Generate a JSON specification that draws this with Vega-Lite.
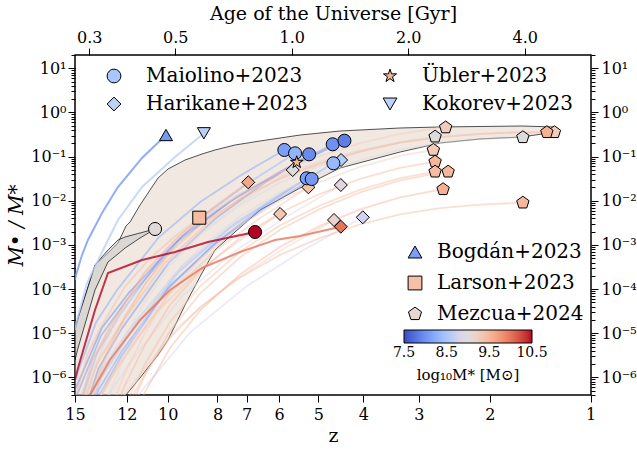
{
"$schema":"https://vega.github.io/schema/vega-lite/v6.json",
"width":516,"height":340,
"autosize":{"type":"none"},
"padding":{"left":75,"top":55,"right":46,"bottom":57},
"config":{
 "font":"DejaVu Serif",
 "view":{"stroke":"black","strokeWidth":1.5},
 "axis":{"grid":false,"domain":false,"tickColor":"black","labelColor":"black","titleColor":"black","labelFont":"DejaVu Serif","titleFont":"DejaVu Serif","labelFontSize":16,"titleFontSize":19,"titleFontWeight":"normal","labelFlush":false,"labelOverlap":false,"tickWidth":1},
 "legend":{"labelFont":"DejaVu Serif","titleFont":"DejaVu Serif","labelColor":"black","titleColor":"black","labelLimit":400}
},
"datasets":{
"band":[
{"age":0.2755,"upper":-4.881,"lower":-7.983},{"age":0.3103,"upper":-3.454,"lower":-7.417},{"age":0.3352,"upper":-3.183,"lower":-7.032},{"age":0.3557,"upper":-2.956,"lower":-6.693},{"age":0.3732,"upper":-2.571,"lower":-6.398},{"age":0.3822,"upper":-2.481,"lower":-6.285},{"age":0.4056,"upper":-2.096,"lower":-6.013},{"age":0.4305,"upper":-1.756,"lower":-5.719},{"age":0.4515,"upper":-1.484,"lower":-5.492},{"age":0.4791,"upper":-1.281,"lower":-5.153},{"age":0.5301,"upper":-1.077,"lower":-4.36},{"age":0.5865,"upper":-0.941,"lower":-3.636},{"age":0.6335,"upper":-0.85,"lower":-3.115},{"age":0.7136,"upper":-0.737,"lower":-2.707},{"age":0.8282,"upper":-0.646,"lower":-2.209},{"age":1.051,"upper":-0.511,"lower":-1.711},{"age":1.333,"upper":-0.42,"lower":-1.258},{"age":1.9055,"upper":-0.352,"lower":-0.896},{"age":2.4164,"upper":-0.329,"lower":-0.692},{"age":3.066,"upper":-0.318,"lower":-0.601},{"age":3.937,"upper":-0.307,"lower":-0.556},{"age":4.79,"upper":-0.329,"lower":-0.443}
],
"gband":[
{"age":0.2755,"upper":-4.926,"lower":-5.606},{"age":0.2805,"upper":-4.655,"lower":-5.334},{"age":0.3103,"upper":-3.454,"lower":-4.021},{"age":0.3352,"upper":-3.115,"lower":-3.387},{"age":0.3557,"upper":-2.888,"lower":-3.206},{"age":0.371,"upper":-2.82,"lower":-3.07},{"age":0.4056,"upper":-2.73,"lower":-2.843},{"age":0.4435,"upper":-2.639,"lower":-2.639}
],
"tracks":[
{"id":"M1","logMstar":8.1,"age":0.957,"log_ratio":-0.85},{"id":"M1","logMstar":8.1,"age":0.746,"log_ratio":-1.397},{"id":"M1","logMstar":8.1,"age":0.5815,"log_ratio":-2.022},{"id":"M1","logMstar":8.1,"age":0.4533,"log_ratio":-2.829},{"id":"M1","logMstar":8.1,"age":0.3534,"log_ratio":-4.027},{"id":"M1","logMstar":8.1,"age":0.3121,"log_ratio":-4.756},{"id":"M1","logMstar":8.1,"age":0.2755,"log_ratio":-6.058},
{"id":"M2","logMstar":8.3,"age":1.02,"log_ratio":-0.925},{"id":"M2","logMstar":8.3,"age":0.785,"log_ratio":-1.559},{"id":"M2","logMstar":8.3,"age":0.6044,"log_ratio":-2.284},{"id":"M2","logMstar":8.3,"age":0.4651,"log_ratio":-3.22},{"id":"M2","logMstar":8.3,"age":0.3579,"log_ratio":-4.609},{"id":"M2","logMstar":8.3,"age":0.3141,"log_ratio":-5.454},{"id":"M2","logMstar":8.3,"age":0.2755,"log_ratio":-6.964},
{"id":"M3","logMstar":7.95,"age":1.109,"log_ratio":-0.948},{"id":"M3","logMstar":7.95,"age":0.8392,"log_ratio":-1.627},{"id":"M3","logMstar":7.95,"age":0.6353,"log_ratio":-2.404},{"id":"M3","logMstar":7.95,"age":0.4808,"log_ratio":-3.407},{"id":"M3","logMstar":7.95,"age":0.364,"log_ratio":-4.895},{"id":"M3","logMstar":7.95,"age":0.3167,"log_ratio":-5.801},{"id":"M3","logMstar":7.95,"age":0.2755,"log_ratio":-7.418},
{"id":"M4","logMstar":8.0,"age":1.276,"log_ratio":-0.721},{"id":"M4","logMstar":8.0,"age":0.9393,"log_ratio":-1.329},{"id":"M4","logMstar":8.0,"age":0.6912,"log_ratio":-2.024},{"id":"M4","logMstar":8.0,"age":0.5087,"log_ratio":-2.921},{"id":"M4","logMstar":8.0,"age":0.3744,"log_ratio":-4.253},{"id":"M4","logMstar":8.0,"age":0.3211,"log_ratio":-5.064},{"id":"M4","logMstar":8.0,"age":0.2755,"log_ratio":-6.511},
{"id":"M5","logMstar":7.85,"age":1.368,"log_ratio":-0.64},{"id":"M5","logMstar":7.85,"age":0.9926,"log_ratio":-1.233},{"id":"M5","logMstar":7.85,"age":0.7205,"log_ratio":-1.91},{"id":"M5","logMstar":7.85,"age":0.523,"log_ratio":-2.785},{"id":"M5","logMstar":7.85,"age":0.3796,"log_ratio":-4.083},{"id":"M5","logMstar":7.85,"age":0.3234,"log_ratio":-4.874},{"id":"M5","logMstar":7.85,"age":0.2755,"log_ratio":-6.285},
{"id":"M6","logMstar":8.35,"age":1.281,"log_ratio":-1.151},{"id":"M6","logMstar":8.35,"age":0.9419,"log_ratio":-1.833},{"id":"M6","logMstar":8.35,"age":0.6926,"log_ratio":-2.612},{"id":"M6","logMstar":8.35,"age":0.5094,"log_ratio":-3.618},{"id":"M6","logMstar":8.35,"age":0.3747,"log_ratio":-5.111},{"id":"M6","logMstar":8.35,"age":0.3212,"log_ratio":-6.02},{"id":"M6","logMstar":8.35,"age":0.2755,"log_ratio":-7.643},
{"id":"M7","logMstar":8.1,"age":1.093,"log_ratio":-1.491},{"id":"M7","logMstar":8.1,"age":0.83,"log_ratio":-2.185},{"id":"M7","logMstar":8.1,"age":0.6301,"log_ratio":-2.977},{"id":"M7","logMstar":8.1,"age":0.4782,"log_ratio":-4.001},{"id":"M7","logMstar":8.1,"age":0.3629,"log_ratio":-5.52},{"id":"M7","logMstar":8.1,"age":0.3162,"log_ratio":-6.445},{"id":"M7","logMstar":8.1,"age":0.2755,"log_ratio":-8.096},
{"id":"M8","logMstar":8.05,"age":1.126,"log_ratio":-1.507},{"id":"M8","logMstar":8.05,"age":0.85,"log_ratio":-2.175},{"id":"M8","logMstar":8.05,"age":0.6414,"log_ratio":-2.939},{"id":"M8","logMstar":8.05,"age":0.4838,"log_ratio":-3.925},{"id":"M8","logMstar":8.05,"age":0.3651,"log_ratio":-5.388},{"id":"M8","logMstar":8.05,"age":0.3171,"log_ratio":-6.279},{"id":"M8","logMstar":8.05,"age":0.2755,"log_ratio":-7.87},
{"id":"Ha","logMstar":9.0,"age":1.006,"log_ratio":-1.303},{"id":"Ha","logMstar":9.0,"age":0.7764,"log_ratio":-1.921},{"id":"Ha","logMstar":9.0,"age":0.5993,"log_ratio":-2.628},{"id":"Ha","logMstar":9.0,"age":0.4626,"log_ratio":-3.54},{"id":"Ha","logMstar":9.0,"age":0.357,"log_ratio":-4.895},{"id":"Ha","logMstar":9.0,"age":0.3136,"log_ratio":-5.719},{"id":"Ha","logMstar":9.0,"age":0.2755,"log_ratio":-7.191},
{"id":"Hb","logMstar":8.6,"age":1.341,"log_ratio":-1.077},{"id":"Hb","logMstar":8.6,"age":0.9769,"log_ratio":-1.743},{"id":"Hb","logMstar":8.6,"age":0.7121,"log_ratio":-2.504},{"id":"Hb","logMstar":8.6,"age":0.5188,"log_ratio":-3.487},{"id":"Hb","logMstar":8.6,"age":0.3782,"log_ratio":-4.945},{"id":"Hb","logMstar":8.6,"age":0.3227,"log_ratio":-5.833},{"id":"Hb","logMstar":8.6,"age":0.2755,"log_ratio":-7.418},
{"id":"Hc","logMstar":9.4,"age":1.104,"log_ratio":-1.695},{"id":"Hc","logMstar":9.4,"age":0.8361,"log_ratio":-2.367},{"id":"Hc","logMstar":9.4,"age":0.6337,"log_ratio":-3.135},{"id":"Hc","logMstar":9.4,"age":0.4799,"log_ratio":-4.128},{"id":"Hc","logMstar":9.4,"age":0.3637,"log_ratio":-5.6},{"id":"Hc","logMstar":9.4,"age":0.3166,"log_ratio":-6.497},
{"id":"Hd","logMstar":8.9,"age":1.339,"log_ratio":-1.643},{"id":"Hd","logMstar":8.9,"age":0.9758,"log_ratio":-2.344},{"id":"Hd","logMstar":8.9,"age":0.7116,"log_ratio":-3.146},{"id":"Hd","logMstar":8.9,"age":0.5185,"log_ratio":-4.181},{"id":"Hd","logMstar":8.9,"age":0.378,"log_ratio":-5.718},{"id":"Hd","logMstar":8.9,"age":0.3227,"log_ratio":-6.653},
{"id":"He","logMstar":9.35,"age":0.933,"log_ratio":-2.299},{"id":"He","logMstar":9.35,"age":0.731,"log_ratio":-2.908},{"id":"He","logMstar":9.35,"age":0.5726,"log_ratio":-3.603},{"id":"He","logMstar":9.35,"age":0.4488,"log_ratio":-4.502},{"id":"He","logMstar":9.35,"age":0.3516,"log_ratio":-5.835},{"id":"He","logMstar":9.35,"age":0.3113,"log_ratio":-6.647},
{"id":"Hf","logMstar":9.15,"age":1.286,"log_ratio":-2.435},{"id":"Hf","logMstar":9.15,"age":0.9452,"log_ratio":-3.101},{"id":"Hf","logMstar":9.15,"age":0.6945,"log_ratio":-3.862},{"id":"Hf","logMstar":9.15,"age":0.5102,"log_ratio":-4.845},{"id":"Hf","logMstar":9.15,"age":0.375,"log_ratio":-6.303},{"id":"Hf","logMstar":9.15,"age":0.3212,"log_ratio":-7.191},
{"id":"Hh","logMstar":8.75,"age":1.526,"log_ratio":-2.374},{"id":"Hh","logMstar":8.75,"age":1.0835,"log_ratio":-3.094},{"id":"Hh","logMstar":8.75,"age":0.7692,"log_ratio":-3.916},{"id":"Hh","logMstar":8.75,"age":0.5463,"log_ratio":-4.979},{"id":"Hh","logMstar":8.75,"age":0.3882,"log_ratio":-6.556},{"id":"Hh","logMstar":8.75,"age":0.3269,"log_ratio":-7.515},
{"id":"Hi","logMstar":9.65,"age":0.772,"log_ratio":-1.582},{"id":"Hi","logMstar":9.65,"age":0.6287,"log_ratio":-2.147},{"id":"Hi","logMstar":9.65,"age":0.5114,"log_ratio":-2.793},{"id":"Hi","logMstar":9.65,"age":0.4162,"log_ratio":-3.628},{"id":"Hi","logMstar":9.65,"age":0.3386,"log_ratio":-4.866},{"id":"Hi","logMstar":9.65,"age":0.3055,"log_ratio":-5.619},{"id":"Hi","logMstar":9.65,"age":0.2755,"log_ratio":-6.965},
{"id":"U","logMstar":9.5,"age":1.03,"log_ratio":-1.129},{"id":"U","logMstar":9.5,"age":0.7914,"log_ratio":-1.766},{"id":"U","logMstar":9.5,"age":0.608,"log_ratio":-2.493},{"id":"U","logMstar":9.5,"age":0.467,"log_ratio":-3.433},{"id":"U","logMstar":9.5,"age":0.3587,"log_ratio":-4.827},{"id":"U","logMstar":9.5,"age":0.3144,"log_ratio":-5.676},{"id":"U","logMstar":9.5,"age":0.2755,"log_ratio":-7.191},
{"id":"L","logMstar":9.45,"age":0.577,"log_ratio":-2.383},{"id":"L","logMstar":9.45,"age":0.4978,"log_ratio":-2.816},{"id":"L","logMstar":9.45,"age":0.4294,"log_ratio":-3.312},{"id":"L","logMstar":9.45,"age":0.3703,"log_ratio":-3.952},{"id":"L","logMstar":9.45,"age":0.3194,"log_ratio":-4.901},{"id":"L","logMstar":9.45,"age":0.2967,"log_ratio":-5.479},{"id":"L","logMstar":9.45,"age":0.2755,"log_ratio":-6.511},
{"id":"p1","logMstar":9.25,"age":0.2755,"log_ratio":-7.743},{"id":"p1","logMstar":9.25,"age":0.3012,"log_ratio":-6.588},{"id":"p1","logMstar":9.25,"age":0.3294,"log_ratio":-5.625},{"id":"p1","logMstar":9.25,"age":0.371,"log_ratio":-4.662},{"id":"p1","logMstar":9.25,"age":0.4178,"log_ratio":-3.893},{"id":"p1","logMstar":9.25,"age":0.4849,"log_ratio":-3.123},{"id":"p1","logMstar":9.25,"age":0.5795,"log_ratio":-2.469},{"id":"p1","logMstar":9.25,"age":0.7354,"log_ratio":-1.834},{"id":"p1","logMstar":9.25,"age":0.9328,"log_ratio":-1.352},{"id":"p1","logMstar":9.25,"age":1.1838,"log_ratio":-0.986},{"id":"p1","logMstar":9.25,"age":1.5015,"log_ratio":-0.697},{"id":"p1","logMstar":9.25,"age":1.9055,"log_ratio":-0.486},{"id":"p1","logMstar":9.25,"age":2.4164,"log_ratio":-0.351},{"id":"p1","logMstar":9.25,"age":2.498,"log_ratio":-0.341},
{"id":"p2","logMstar":9.0,"age":0.2755,"log_ratio":-8.357},{"id":"p2","logMstar":9.0,"age":0.3012,"log_ratio":-7.134},{"id":"p2","logMstar":9.0,"age":0.3294,"log_ratio":-6.116},{"id":"p2","logMstar":9.0,"age":0.371,"log_ratio":-5.096},{"id":"p2","logMstar":9.0,"age":0.4178,"log_ratio":-4.281},{"id":"p2","logMstar":9.0,"age":0.4849,"log_ratio":-3.466},{"id":"p2","logMstar":9.0,"age":0.5795,"log_ratio":-2.773},{"id":"p2","logMstar":9.0,"age":0.7354,"log_ratio":-2.101},{"id":"p2","logMstar":9.0,"age":0.9328,"log_ratio":-1.59},{"id":"p2","logMstar":9.0,"age":1.1838,"log_ratio":-1.203},{"id":"p2","logMstar":9.0,"age":1.5015,"log_ratio":-0.897},{"id":"p2","logMstar":9.0,"age":1.9055,"log_ratio":-0.673},{"id":"p2","logMstar":9.0,"age":2.346,"log_ratio":-0.549},
{"id":"p3","logMstar":9.3,"age":0.3012,"log_ratio":-8.16},{"id":"p3","logMstar":9.3,"age":0.3294,"log_ratio":-7.028},{"id":"p3","logMstar":9.3,"age":0.371,"log_ratio":-5.895},{"id":"p3","logMstar":9.3,"age":0.4178,"log_ratio":-4.99},{"id":"p3","logMstar":9.3,"age":0.4849,"log_ratio":-4.084},{"id":"p3","logMstar":9.3,"age":0.5795,"log_ratio":-3.314},{"id":"p3","logMstar":9.3,"age":0.7354,"log_ratio":-2.567},{"id":"p3","logMstar":9.3,"age":0.9328,"log_ratio":-2.0},{"id":"p3","logMstar":9.3,"age":1.1838,"log_ratio":-1.57},{"id":"p3","logMstar":9.3,"age":1.5015,"log_ratio":-1.23},{"id":"p3","logMstar":9.3,"age":1.9055,"log_ratio":-0.981},{"id":"p3","logMstar":9.3,"age":2.322,"log_ratio":-0.85},
{"id":"p4","logMstar":9.5,"age":0.3294,"log_ratio":-7.3},{"id":"p4","logMstar":9.5,"age":0.371,"log_ratio":-6.167},{"id":"p4","logMstar":9.5,"age":0.4178,"log_ratio":-5.262},{"id":"p4","logMstar":9.5,"age":0.4849,"log_ratio":-4.356},{"id":"p4","logMstar":9.5,"age":0.5795,"log_ratio":-3.586},{"id":"p4","logMstar":9.5,"age":0.7354,"log_ratio":-2.839},{"id":"p4","logMstar":9.5,"age":0.9328,"log_ratio":-2.272},{"id":"p4","logMstar":9.5,"age":1.1838,"log_ratio":-1.842},{"id":"p4","logMstar":9.5,"age":1.5015,"log_ratio":-1.502},{"id":"p4","logMstar":9.5,"age":1.9055,"log_ratio":-1.253},{"id":"p4","logMstar":9.5,"age":2.346,"log_ratio":-1.115},
{"id":"p5","logMstar":9.45,"age":0.3294,"log_ratio":-7.836},{"id":"p5","logMstar":9.45,"age":0.371,"log_ratio":-6.647},{"id":"p5","logMstar":9.45,"age":0.4178,"log_ratio":-5.696},{"id":"p5","logMstar":9.45,"age":0.4849,"log_ratio":-4.745},{"id":"p5","logMstar":9.45,"age":0.5795,"log_ratio":-3.937},{"id":"p5","logMstar":9.45,"age":0.7354,"log_ratio":-3.152},{"id":"p5","logMstar":9.45,"age":0.9328,"log_ratio":-2.557},{"id":"p5","logMstar":9.45,"age":1.1838,"log_ratio":-2.105},{"id":"p5","logMstar":9.45,"age":1.5015,"log_ratio":-1.748},{"id":"p5","logMstar":9.45,"age":1.9055,"log_ratio":-1.487},{"id":"p5","logMstar":9.45,"age":2.346,"log_ratio":-1.342},
{"id":"p6","logMstar":9.5,"age":0.371,"log_ratio":-6.941},{"id":"p6","logMstar":9.5,"age":0.4178,"log_ratio":-5.946},{"id":"p6","logMstar":9.5,"age":0.4849,"log_ratio":-4.949},{"id":"p6","logMstar":9.5,"age":0.5795,"log_ratio":-4.102},{"id":"p6","logMstar":9.5,"age":0.7354,"log_ratio":-3.28},{"id":"p6","logMstar":9.5,"age":0.9328,"log_ratio":-2.657},{"id":"p6","logMstar":9.5,"age":1.1838,"log_ratio":-2.184},{"id":"p6","logMstar":9.5,"age":1.5015,"log_ratio":-1.81},{"id":"p6","logMstar":9.5,"age":1.9055,"log_ratio":-1.536},{"id":"p6","logMstar":9.5,"age":2.4164,"log_ratio":-1.362},{"id":"p6","logMstar":9.5,"age":2.535,"log_ratio":-1.342},
{"id":"p7","logMstar":9.55,"age":0.371,"log_ratio":-7.327},{"id":"p7","logMstar":9.55,"age":0.4178,"log_ratio":-6.331},{"id":"p7","logMstar":9.55,"age":0.4849,"log_ratio":-5.335},{"id":"p7","logMstar":9.55,"age":0.5795,"log_ratio":-4.488},{"id":"p7","logMstar":9.55,"age":0.7354,"log_ratio":-3.666},{"id":"p7","logMstar":9.55,"age":0.9328,"log_ratio":-3.042},{"id":"p7","logMstar":9.55,"age":1.1838,"log_ratio":-2.569},{"id":"p7","logMstar":9.55,"age":1.5015,"log_ratio":-2.195},{"id":"p7","logMstar":9.55,"age":1.9055,"log_ratio":-1.922},{"id":"p7","logMstar":9.55,"age":2.4164,"log_ratio":-1.748},{"id":"p7","logMstar":9.55,"age":2.46,"log_ratio":-1.74},
{"id":"p8","logMstar":9.0,"age":0.3012,"log_ratio":-7.662},{"id":"p8","logMstar":9.0,"age":0.3294,"log_ratio":-6.587},{"id":"p8","logMstar":9.0,"age":0.371,"log_ratio":-5.511},{"id":"p8","logMstar":9.0,"age":0.4178,"log_ratio":-4.651},{"id":"p8","logMstar":9.0,"age":0.4849,"log_ratio":-3.79},{"id":"p8","logMstar":9.0,"age":0.5795,"log_ratio":-3.059},{"id":"p8","logMstar":9.0,"age":0.7354,"log_ratio":-2.349},{"id":"p8","logMstar":9.0,"age":0.9328,"log_ratio":-1.81},{"id":"p8","logMstar":9.0,"age":1.1838,"log_ratio":-1.402},{"id":"p8","logMstar":9.0,"age":1.5015,"log_ratio":-1.079},{"id":"p8","logMstar":9.0,"age":1.9055,"log_ratio":-0.842},{"id":"p8","logMstar":9.0,"age":2.4164,"log_ratio":-0.692},{"id":"p8","logMstar":9.0,"age":3.066,"log_ratio":-0.606},{"id":"p8","logMstar":9.0,"age":3.954,"log_ratio":-0.563},
{"id":"p9","logMstar":9.55,"age":0.2755,"log_ratio":-7.515},{"id":"p9","logMstar":9.55,"age":0.3012,"log_ratio":-6.427},{"id":"p9","logMstar":9.55,"age":0.3294,"log_ratio":-5.522},{"id":"p9","logMstar":9.55,"age":0.371,"log_ratio":-4.615},{"id":"p9","logMstar":9.55,"age":0.4178,"log_ratio":-3.891},{"id":"p9","logMstar":9.55,"age":0.4849,"log_ratio":-3.167},{"id":"p9","logMstar":9.55,"age":0.5795,"log_ratio":-2.551},{"id":"p9","logMstar":9.55,"age":0.7354,"log_ratio":-1.953},{"id":"p9","logMstar":9.55,"age":0.9328,"log_ratio":-1.499},{"id":"p9","logMstar":9.55,"age":1.1838,"log_ratio":-1.155},{"id":"p9","logMstar":9.55,"age":1.5015,"log_ratio":-0.883},{"id":"p9","logMstar":9.55,"age":1.9055,"log_ratio":-0.684},{"id":"p9","logMstar":9.55,"age":2.4164,"log_ratio":-0.558},{"id":"p9","logMstar":9.55,"age":3.066,"log_ratio":-0.485},{"id":"p9","logMstar":9.55,"age":3.89,"log_ratio":-0.449},{"id":"p9","logMstar":9.55,"age":4.56,"log_ratio":-0.449},
{"id":"p10","logMstar":9.25,"age":0.2755,"log_ratio":-7.073},{"id":"p10","logMstar":9.25,"age":0.3012,"log_ratio":-6.054},{"id":"p10","logMstar":9.25,"age":0.3294,"log_ratio":-5.205},{"id":"p10","logMstar":9.25,"age":0.371,"log_ratio":-4.355},{"id":"p10","logMstar":9.25,"age":0.4178,"log_ratio":-3.676},{"id":"p10","logMstar":9.25,"age":0.4849,"log_ratio":-2.997},{"id":"p10","logMstar":9.25,"age":0.5795,"log_ratio":-2.419},{"id":"p10","logMstar":9.25,"age":0.7354,"log_ratio":-1.859},{"id":"p10","logMstar":9.25,"age":0.9328,"log_ratio":-1.434},{"id":"p10","logMstar":9.25,"age":1.1838,"log_ratio":-1.111},{"id":"p10","logMstar":9.25,"age":1.5015,"log_ratio":-0.856},{"id":"p10","logMstar":9.25,"age":1.9055,"log_ratio":-0.67},{"id":"p10","logMstar":9.25,"age":2.4164,"log_ratio":-0.551},{"id":"p10","logMstar":9.25,"age":3.066,"log_ratio":-0.483},{"id":"p10","logMstar":9.25,"age":3.89,"log_ratio":-0.449},{"id":"p10","logMstar":9.25,"age":4.771,"log_ratio":-0.449},
{"id":"p11","logMstar":9.5,"age":0.3294,"log_ratio":-7.751},{"id":"p11","logMstar":9.5,"age":0.371,"log_ratio":-6.731},{"id":"p11","logMstar":9.5,"age":0.4178,"log_ratio":-5.917},{"id":"p11","logMstar":9.5,"age":0.4849,"log_ratio":-5.101},{"id":"p11","logMstar":9.5,"age":0.5795,"log_ratio":-4.408},{"id":"p11","logMstar":9.5,"age":0.7354,"log_ratio":-3.736},{"id":"p11","logMstar":9.5,"age":0.9328,"log_ratio":-3.226},{"id":"p11","logMstar":9.5,"age":1.1838,"log_ratio":-2.839},{"id":"p11","logMstar":9.5,"age":1.5015,"log_ratio":-2.533},{"id":"p11","logMstar":9.5,"age":1.9055,"log_ratio":-2.309},{"id":"p11","logMstar":9.5,"age":2.4164,"log_ratio":-2.166},{"id":"p11","logMstar":9.5,"age":3.066,"log_ratio":-2.085},{"id":"p11","logMstar":9.5,"age":3.954,"log_ratio":-2.044}
],
"hl":[
{"id":"B","logMstar":8.05,"age":0.4733,"log_ratio":-0.511},{"id":"B","logMstar":8.05,"age":0.4105,"log_ratio":-1.031},{"id":"B","logMstar":8.05,"age":0.3557,"log_ratio":-1.688},{"id":"B","logMstar":8.05,"age":0.3235,"log_ratio":-2.277},{"id":"B","logMstar":8.05,"age":0.2976,"log_ratio":-2.888},{"id":"B","logMstar":8.05,"age":0.2872,"log_ratio":-3.228},{"id":"B","logMstar":8.05,"age":0.2772,"log_ratio":-3.681},{"id":"B","logMstar":8.05,"age":0.2755,"log_ratio":-3.794},
{"id":"K","logMstar":8.65,"age":0.593,"log_ratio":-0.472},{"id":"K","logMstar":8.65,"age":0.4994,"log_ratio":-1.009},{"id":"K","logMstar":8.65,"age":0.4105,"log_ratio":-1.688},{"id":"K","logMstar":8.65,"age":0.3557,"log_ratio":-2.435},{"id":"K","logMstar":8.65,"age":0.3352,"log_ratio":-2.888},{"id":"K","logMstar":8.65,"age":0.2959,"log_ratio":-3.862},{"id":"K","logMstar":8.65,"age":0.2788,"log_ratio":-4.7},{"id":"K","logMstar":8.65,"age":0.2755,"log_ratio":-4.926},
{"id":"M10","logMstar":10.5,"age":0.804,"log_ratio":-2.707},{"id":"M10","logMstar":10.5,"age":0.6077,"log_ratio":-2.934},{"id":"M10","logMstar":10.5,"age":0.4994,"log_ratio":-3.16},{"id":"M10","logMstar":10.5,"age":0.4105,"log_ratio":-3.341},{"id":"M10","logMstar":10.5,"age":0.3352,"log_ratio":-3.636},{"id":"M10","logMstar":10.5,"age":0.3103,"log_ratio":-4.473},{"id":"M10","logMstar":10.5,"age":0.2805,"log_ratio":-5.787},{"id":"M10","logMstar":10.5,"age":0.2755,"log_ratio":-6.059},
{"id":"Hg","logMstar":10.0,"age":1.339,"log_ratio":-2.587},{"id":"Hg","logMstar":10.0,"age":1.051,"log_ratio":-2.798},{"id":"Hg","logMstar":10.0,"age":0.9055,"log_ratio":-2.888},{"id":"Hg","logMstar":10.0,"age":0.7354,"log_ratio":-3.16},{"id":"Hg","logMstar":10.0,"age":0.5865,"log_ratio":-3.522},{"id":"Hg","logMstar":10.0,"age":0.4849,"log_ratio":-4.021},{"id":"Hg","logMstar":10.0,"age":0.4056,"log_ratio":-4.7},{"id":"Hg","logMstar":10.0,"age":0.3392,"log_ratio":-5.606},{"id":"Hg","logMstar":10.0,"age":0.3012,"log_ratio":-6.398}
],
"ptsA":[
{"survey":"Harikane+2023","age":1.006,"log_ratio":-1.303,"logMstar":9.0},{"survey":"Harikane+2023","age":1.341,"log_ratio":-1.077,"logMstar":8.6},{"survey":"Harikane+2023","age":1.104,"log_ratio":-1.695,"logMstar":9.4},{"survey":"Harikane+2023","age":1.339,"log_ratio":-1.643,"logMstar":8.9},{"survey":"Harikane+2023","age":0.933,"log_ratio":-2.299,"logMstar":9.35},{"survey":"Harikane+2023","age":1.286,"log_ratio":-2.435,"logMstar":9.15},{"survey":"Harikane+2023","age":1.339,"log_ratio":-2.587,"logMstar":10.0},{"survey":"Harikane+2023","age":1.526,"log_ratio":-2.374,"logMstar":8.75},{"survey":"Harikane+2023","age":0.772,"log_ratio":-1.582,"logMstar":9.65},
{"survey":"Maiolino+2023","age":0.957,"log_ratio":-0.85,"logMstar":8.1},{"survey":"Maiolino+2023","age":1.02,"log_ratio":-0.925,"logMstar":8.3},{"survey":"Maiolino+2023","age":1.109,"log_ratio":-0.948,"logMstar":7.95},{"survey":"Maiolino+2023","age":1.276,"log_ratio":-0.721,"logMstar":8.0},{"survey":"Maiolino+2023","age":1.368,"log_ratio":-0.64,"logMstar":7.85},{"survey":"Maiolino+2023","age":1.281,"log_ratio":-1.151,"logMstar":8.35},{"survey":"Maiolino+2023","age":1.093,"log_ratio":-1.491,"logMstar":8.1},{"survey":"Maiolino+2023","age":1.126,"log_ratio":-1.507,"logMstar":8.05},{"survey":"Maiolino+2023","age":0.4435,"log_ratio":-2.639,"logMstar":8.95},{"survey":"Maiolino+2023","age":0.804,"log_ratio":-2.707,"logMstar":10.5},
{"survey":"Übler+2023","age":1.03,"log_ratio":-1.129,"logMstar":9.5},
{"survey":"Kokorev+2023","age":0.593,"log_ratio":-0.472,"logMstar":8.65}
],
"ptsB":[
{"survey":"Bogdán+2023","age":0.4733,"log_ratio":-0.511,"logMstar":8.05},
{"survey":"Larson+2023","age":0.577,"log_ratio":-2.383,"logMstar":9.45},
{"survey":"Mezcua+2024","age":2.346,"log_ratio":-0.549,"logMstar":9.0},{"survey":"Mezcua+2024","age":2.322,"log_ratio":-0.85,"logMstar":9.3},{"survey":"Mezcua+2024","age":2.498,"log_ratio":-0.341,"logMstar":9.25},{"survey":"Mezcua+2024","age":2.346,"log_ratio":-1.115,"logMstar":9.5},{"survey":"Mezcua+2024","age":2.346,"log_ratio":-1.342,"logMstar":9.45},{"survey":"Mezcua+2024","age":2.535,"log_ratio":-1.342,"logMstar":9.5},{"survey":"Mezcua+2024","age":2.46,"log_ratio":-1.74,"logMstar":9.55},{"survey":"Mezcua+2024","age":3.954,"log_ratio":-0.563,"logMstar":9.0},{"survey":"Mezcua+2024","age":3.954,"log_ratio":-2.044,"logMstar":9.5},{"survey":"Mezcua+2024","age":4.771,"log_ratio":-0.449,"logMstar":9.25},{"survey":"Mezcua+2024","age":4.56,"log_ratio":-0.449,"logMstar":9.55}
]
},
"layer":[
{"data":{"name":"band"},
 "mark":{"type":"area","clip":true,"fill":"#e8d8ce","fillOpacity":0.6,"stroke":"black","strokeWidth":0.8,"strokeOpacity":0.85},
 "encoding":{
  "x":{"field":"age","type":"quantitative","scale":{"type":"log","domain":[0.2755,5.93],"nice":false},
   "axis":{"orient":"bottom","values":[0.2755,0.375,0.478,0.643,0.765,0.928,1.171,1.53,2.13,3.25,5.92],
    "labelExpr":"datum.value < 0.3 ? '15' : datum.value < 0.4 ? '12' : datum.value < 0.5 ? '10' : datum.value < 0.7 ? '8' : datum.value < 0.8 ? '7' : datum.value < 1 ? '6' : datum.value < 1.3 ? '5' : datum.value < 1.8 ? '4' : datum.value < 2.5 ? '3' : datum.value < 4 ? '2' : '1'",
    "title":"z","tickSize":7,"labelPadding":4,"titlePadding":4}},
  "y":{"field":"upper","type":"quantitative","scale":{"domain":[-6.398,1.301],"nice":false,"zero":false},
   "axis":{"orient":"left","values":[-6,-5,-4,-3,-2,-1,0,1],
    "labelExpr":"'10' + ['⁻⁶','⁻⁵','⁻⁴','⁻³','⁻²','⁻¹','⁰','¹'][round(datum.value) + 6]",
    "title":"M• / M*","titleFontStyle":"italic","titleFontSize":20,"tickSize":7,"labelPadding":2,"titlePadding":4}},
  "y2":{"field":"lower"}
 }},
{"data":{"name":"tracks"},
 "mark":{"type":"line","clip":true,"strokeWidth":1.8,"opacity":0.45},
 "encoding":{
  "x":{"field":"age","type":"quantitative",
   "axis":{"orient":"top","values":[0.3,0.5,1,2,4],"format":".1f","title":"Age of the Universe [Gyr]","tickSize":7,"labelPadding":3,"titlePadding":6}},
  "y":{"field":"log_ratio","type":"quantitative",
   "axis":{"orient":"right","values":[-6,-5,-4,-3,-2,-1,0,1],
    "labelExpr":"'10' + ['⁻⁶','⁻⁵','⁻⁴','⁻³','⁻²','⁻¹','⁰','¹'][round(datum.value) + 6]",
    "title":null,"tickSize":7,"labelPadding":3}},
  "detail":{"field":"id"},
  "color":{"field":"logMstar","type":"quantitative",
   "scale":{"domain":[7.5,7.8,8.1,8.4,8.7,9.0,9.3,9.6,9.9,10.2,10.5],"range":["#3b4cc0","#5977e3","#7b9ff9","#9ebeff","#c0d4f5","#dddcdc","#f2cbb7","#f7ac8e","#ee8468","#d65244","#b40426"]},
   "legend":null}
 }},
{"data":{"name":"gband"},
 "mark":{"type":"area","clip":true,"fill":"#c8c8c8","fillOpacity":0.55,"stroke":"black","strokeWidth":0.8,"strokeOpacity":0.85},
 "encoding":{
  "x":{"field":"age","type":"quantitative","axis":null},
  "y":{"field":"upper","type":"quantitative",
   "axis":{"orient":"left","values":[-6.397,-6.301,-6.2218,-6.1549,-6.0969,-6.0458,-5.699,-5.5229,-5.3979,-5.301,-5.2218,-5.1549,-5.0969,-5.0458,-4.699,-4.5229,-4.3979,-4.301,-4.2218,-4.1549,-4.0969,-4.0458,-3.699,-3.5229,-3.3979,-3.301,-3.2218,-3.1549,-3.0969,-3.0458,-2.699,-2.5229,-2.3979,-2.301,-2.2218,-2.1549,-2.0969,-2.0458,-1.699,-1.5229,-1.3979,-1.301,-1.2218,-1.1549,-1.0969,-1.0458,-0.699,-0.5229,-0.3979,-0.301,-0.2218,-0.1549,-0.0969,-0.0458,0.301,0.4771,0.6021,0.699,0.7782,0.8451,0.9031,0.9542,1.3],"labels":false,"tickSize":4,"title":null}},
  "y2":{"field":"lower"}
 }},
{"data":{"name":"hl"},
 "mark":{"type":"line","clip":true,"strokeWidth":2,"opacity":0.8},
 "encoding":{
  "x":{"field":"age","type":"quantitative","axis":null},
  "y":{"field":"log_ratio","type":"quantitative",
   "axis":{"orient":"right","values":[-6.397,-6.301,-6.2218,-6.1549,-6.0969,-6.0458,-5.699,-5.5229,-5.3979,-5.301,-5.2218,-5.1549,-5.0969,-5.0458,-4.699,-4.5229,-4.3979,-4.301,-4.2218,-4.1549,-4.0969,-4.0458,-3.699,-3.5229,-3.3979,-3.301,-3.2218,-3.1549,-3.0969,-3.0458,-2.699,-2.5229,-2.3979,-2.301,-2.2218,-2.1549,-2.0969,-2.0458,-1.699,-1.5229,-1.3979,-1.301,-1.2218,-1.1549,-1.0969,-1.0458,-0.699,-0.5229,-0.3979,-0.301,-0.2218,-0.1549,-0.0969,-0.0458,0.301,0.4771,0.6021,0.699,0.7782,0.8451,0.9031,0.9542,1.3],"labels":false,"tickSize":4,"title":null}},
  "detail":{"field":"id"},
  "color":{"field":"logMstar","type":"quantitative","legend":null}
 }},
{"data":{"name":"ptsA"},
 "mark":{"type":"point","filled":true,"stroke":"black","strokeWidth":1,"opacity":1},
 "encoding":{
  "x":{"field":"age","type":"quantitative","axis":null},
  "y":{"field":"log_ratio","type":"quantitative","axis":null},
  "color":{"field":"logMstar","type":"quantitative","legend":null},
  "shape":{"field":"survey","type":"nominal",
   "scale":{"domain":["Maiolino+2023","Harikane+2023","Übler+2023","Kokorev+2023"],
    "range":["circle","diamond","M0,-1L0.2245,-0.309L0.951,-0.309L0.363,0.118L0.588,0.809L0,0.382L-0.588,0.809L-0.363,0.118L-0.951,-0.309L-0.2245,-0.309Z","triangle-down"]},
   "legend":{"orient":"none","legendX":29,"legendY":11,"columns":2,"columnPadding":72,"rowPadding":8,"title":null,"labelFontSize":20,"symbolSize":190,"labelOffset":22,"padding":0,"symbolStrokeColor":"black","symbolStrokeWidth":1,"symbolOpacity":1,
    "symbolFillColor":{"expr":"datum.value === 'Maiolino+2023' ? '#aac7fd' : datum.value === 'Harikane+2023' ? '#bcd3f7' : datum.value === 'Übler+2023' ? '#f2b59a' : '#bcd2f6'"}}},
  "size":{"field":"survey","type":"nominal","scale":{"domain":["Maiolino+2023","Übler+2023","Harikane+2023","Kokorev+2023","Bogdán+2023","Larson+2023","Mezcua+2024"],"range":[170,170,280,170,170,160,200]},"legend":null}
 }},
{"data":{"name":"ptsB"},
 "mark":{"type":"point","filled":true,"stroke":"black","strokeWidth":1,"opacity":1},
 "encoding":{
  "x":{"field":"age","type":"quantitative","axis":null},
  "y":{"field":"log_ratio","type":"quantitative","axis":null},
  "color":{"field":"logMstar","type":"quantitative",
   "legend":{"type":"gradient","orient":"none","legendX":329,"legendY":275,"direction":"horizontal","gradientLength":128,"gradientThickness":13,"values":[7.5001,8.5,9.5,10.4999],"format":".1f","title":"log₁₀M* [M⊙]","titleOrient":"bottom","titleAnchor":"middle","titleFontSize":15,"titleFontWeight":"normal","labelFontSize":14,"gradientStrokeColor":"black","gradientStrokeWidth":1,"labelOffset":3,"titlePadding":8,"padding":0}},
  "shape":{"field":"survey","type":"nominal",
   "scale":{"domain":["Bogdán+2023","Larson+2023","Mezcua+2024"],
    "range":["triangle-up","square","M0,-1L0.951,-0.309L0.588,0.809L-0.588,0.809L-0.951,-0.309Z"]},
   "legend":{"orient":"none","legendX":330,"legendY":187,"title":null,"labelFontSize":20,"symbolSize":190,"labelOffset":12,"rowPadding":11,"padding":0,"symbolStrokeColor":"black","symbolStrokeWidth":1,"symbolOpacity":1,
    "symbolFillColor":{"expr":"datum.value === 'Bogdán+2023' ? '#7b9ff9' : datum.value === 'Larson+2023' ? '#f6bfa6' : '#e5d8d1'"}}},
  "size":{"field":"survey","type":"nominal","legend":null}
 }}
],
"resolve":{"axis":{"x":"independent","y":"independent"},"scale":{"shape":"independent"},"legend":{"shape":"independent","color":"independent"}}
}
